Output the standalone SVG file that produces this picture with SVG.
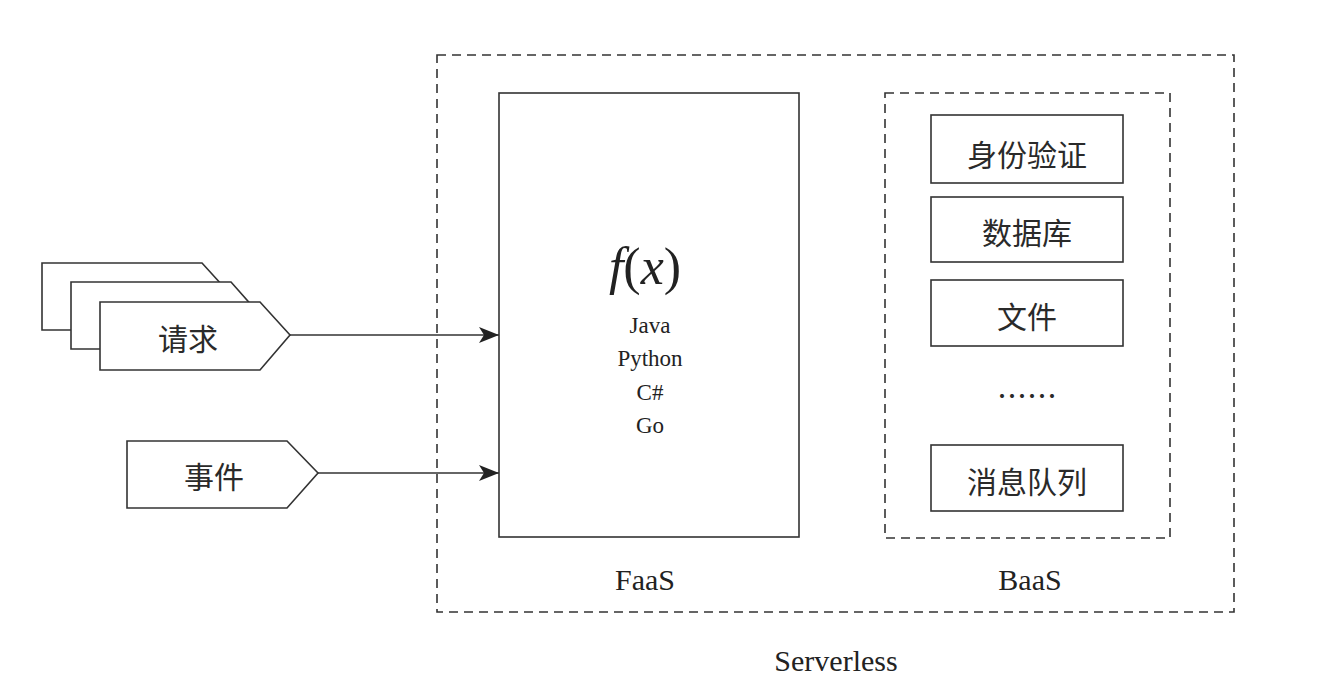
<svg xmlns="http://www.w3.org/2000/svg" width="1342" height="692" viewBox="0 0 1342 692">
<style>
.box{fill:#fff;stroke:#333;stroke-width:1.6}
.dash{fill:none;stroke:#333;stroke-width:1.6;stroke-dasharray:9 6}
.cn{font-family:"Noto Sans CJK SC",sans-serif;font-size:30px;fill:#2a2a2a;text-anchor:middle;dominant-baseline:central}
.en{font-family:"Liberation Serif",serif;fill:#222;text-anchor:middle;dominant-baseline:central}
.line{stroke:#333;stroke-width:1.6;fill:none}
</style>
<defs>
<marker id="arr" markerWidth="20" markerHeight="16" refX="20" refY="8" orient="auto" markerUnits="userSpaceOnUse">
<path d="M0,0 L20,8 L0,16 L5,8 Z" fill="#222"/>
</marker>
</defs>
<rect fill="#fff" width="1342" height="692"/>
<g id="serverless">
<rect class="dash" x="437" y="55" width="797" height="557"/>
<text class="en" x="836" y="660" font-size="30">Serverless</text>
</g>
<g id="faas">
<rect class="box" x="499" y="93" width="300" height="444"/>
<text class="en" x="645" y="266" font-size="52" font-style="italic">f<tspan font-style="normal">(</tspan>x<tspan font-style="normal">)</tspan></text>
<text class="en" x="650" y="325" font-size="23">Java</text>
<text class="en" x="650" y="358" font-size="23">Python</text>
<text class="en" x="650" y="392" font-size="23">C#</text>
<text class="en" x="650" y="425" font-size="23">Go</text>
<text class="en" x="645" y="579" font-size="30">FaaS</text>
</g>
<g id="baas">
<rect class="dash" x="885" y="93" width="285" height="445"/>
<text class="en" x="1030" y="579" font-size="30">BaaS</text>
</g>
<g id="auth"><rect class="box" x="931" y="115" width="192" height="68"/><text class="cn" x="1027" y="153">身份验证</text></g>
<g id="db"><rect class="box" x="931" y="197" width="192" height="65"/><text class="cn" x="1027" y="231">数据库</text></g>
<g id="file"><rect class="box" x="931" y="280" width="192" height="66"/><text class="cn" x="1027" y="315">文件</text></g>
<g id="more"><text class="cn" x="1027" y="394" font-size="27">……</text></g>
<g id="mq"><rect class="box" x="931" y="445" width="192" height="66"/><text class="cn" x="1027" y="480">消息队列</text></g>
<g id="request">
<path class="box" d="M42,263 L202,263 L232,296 L202,330 L42,330 Z"/>
<path class="box" d="M71,282 L231,282 L261,316 L231,349 L71,349 Z"/>
<path class="box" d="M100,302 L260,302 L290,335 L260,370 L100,370 Z"/>
<text class="cn" x="188" y="337">请求</text>
</g>
<g id="event">
<path class="box" d="M127,441 L287,441 L318,473 L287,508 L127,508 Z"/>
<text class="cn" x="214" y="475">事件</text>
</g>
<g id="connectors">
<line class="line" x1="290" y1="335" x2="499" y2="335" marker-end="url(#arr)"/>
<line class="line" x1="318" y1="473" x2="499" y2="473" marker-end="url(#arr)"/>
</g>
</svg>
